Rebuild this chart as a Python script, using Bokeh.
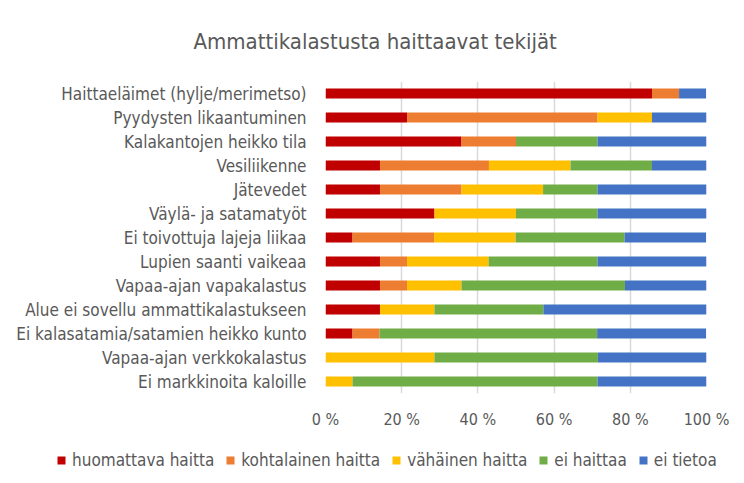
from bokeh.plotting import figure
from bokeh.layouts import column
from bokeh.models import ColumnDataSource, FactorRange, Range1d, FixedTicker, Legend, LegendItem
from bokeh.embed import file_html
from bokeh.resources import INLINE

categories = [
    "Haittaeläimet (hylje/merimetso)",
    "Pyydysten likaantuminen",
    "Kalakantojen heikko tila",
    "Vesiliikenne",
    "Jätevedet",
    "Väylä- ja satamatyöt",
    "Ei toivottuja lajeja liikaa",
    "Lupien saanti vaikeaa",
    "Vapaa-ajan vapakalastus",
    "Alue ei sovellu ammattikalastukseen",
    "Ei kalasatamia/satamien heikko kunto",
    "Vapaa-ajan verkkokalastus",
    "Ei markkinoita kaloille",
]
huomattava = [85.7, 21.4, 35.7, 14.3, 14.3, 28.6, 7.1, 14.3, 14.3, 14.3, 7.1, 0.0, 0.0]
kohtalainen = [7.1, 50.0, 14.3, 28.6, 21.4, 0.0, 21.4, 7.1, 7.1, 0.0, 7.1, 0.0, 0.0]
vahainen = [0.0, 14.3, 0.0, 21.4, 21.4, 21.4, 21.4, 21.4, 14.3, 14.3, 0.0, 28.6, 7.1]
ei_haittaa = [0.0, 0.0, 21.4, 21.4, 14.3, 21.4, 28.6, 28.6, 42.9, 28.6, 57.1, 42.9, 64.3]
ei_tietoa = [7.1, 14.3, 28.6, 14.3, 28.6, 28.6, 21.4, 28.6, 21.4, 42.9, 28.6, 28.6, 28.6]

series_names = ["huomattava haitta", "kohtalainen haitta", "vähäinen haitta", "ei haittaa", "ei tietoa"]
series_keys = ["huomattava", "kohtalainen", "vahainen", "ei_haittaa", "ei_tietoa"]
colors = ["#C00000", "#ED7D31", "#FFC000", "#70AD47", "#4472C4"]
tick_values = [0, 20, 40, 60, 80, 100]
tick_labels = ["0 %", "20 %", "40 %", "60 %", "80 %", "100 %"]

source = ColumnDataSource(dict(
    cat=categories,
    huomattava=huomattava,
    kohtalainen=kohtalainen,
    vahainen=vahainen,
    ei_haittaa=ei_haittaa,
    ei_tietoa=ei_tietoa,
))

FONT = "DejaVu Sans Condensed"
GRAY = "#595959"

p = figure(
    width=740, height=440,
    y_range=FactorRange(factors=list(reversed(categories)), range_padding=0),
    x_range=Range1d(0, 100),
    output_backend="svg", toolbar_location=None,
    min_border_left=325, min_border_right=34, min_border_top=80, min_border_bottom=47,
)
p.outline_line_color = None
p.frame_align = False

renderers = p.hbar_stack(series_keys, y="cat", height=0.42, color=colors, source=source, line_color=None)

# axes
p.xaxis.ticker = FixedTicker(ticks=tick_values)
p.xaxis.major_label_overrides = {v: l for v, l in zip(tick_values, tick_labels)}
p.xaxis.axis_line_color = None
p.xaxis.major_tick_line_color = None
p.xaxis.minor_tick_line_color = None
p.xaxis.major_label_text_font = FONT
p.xaxis.major_label_text_font_size = "16px"
p.xaxis.major_label_text_color = GRAY
p.xaxis.major_label_standoff = 10

p.yaxis.axis_line_color = None
p.yaxis.major_tick_line_color = None
p.yaxis.minor_tick_line_color = None
p.yaxis.major_label_text_font = FONT
p.yaxis.major_label_text_font_size = "17px"
p.yaxis.major_label_text_color = GRAY
p.yaxis.major_label_standoff = 13

p.ygrid.grid_line_color = None
p.xgrid.ticker = FixedTicker(ticks=tick_values)
p.xgrid.grid_line_color = "#D9D9D9"
p.xgrid.grid_line_width = 1.5

# title
p.title.text = "Ammattikalastusta haittaavat tekijät"
p.title.text_font = FONT
p.title.text_font_size = "22px"
p.title.text_font_style = "normal"
p.title.text_color = GRAY
p.title.align = "left"
p.title.vertical_align = "middle"
p.title.offset = -132
p.title.standoff = 54

# legend strip (separate figure; its proxy bars are hidden)
lg = figure(
    width=740, height=40,
    x_range=Range1d(0, 100), y_range=FactorRange(factors=list(reversed(categories))),
    x_axis_type=None, y_axis_type=None,
    output_backend="svg", toolbar_location=None,
    min_border_left=0, min_border_right=0, min_border_top=0, min_border_bottom=0,
)
lg.outline_line_color = None
lg.grid.grid_line_color = None
lg.frame_align = False
proxies = lg.hbar_stack(series_keys, y="cat", height=0.42, color=colors, source=source, line_color=None)
for r in proxies:
    r.visible = False
items = [LegendItem(label=n, renderers=[r]) for n, r in zip(series_names, proxies)]
legend = Legend(
    items=items, orientation="horizontal", location=(56, 10),
    glyph_width=10, glyph_height=10, label_standoff=6, spacing=11,
    padding=0, margin=0, border_line_color=None, background_fill_alpha=0,
    label_text_font=FONT, label_text_font_size="17px", label_text_color=GRAY,
)
lg.add_layout(legend, "center")

layout = column(p, lg, spacing=0)
open("out.html", "w").write(file_html(layout, INLINE))
